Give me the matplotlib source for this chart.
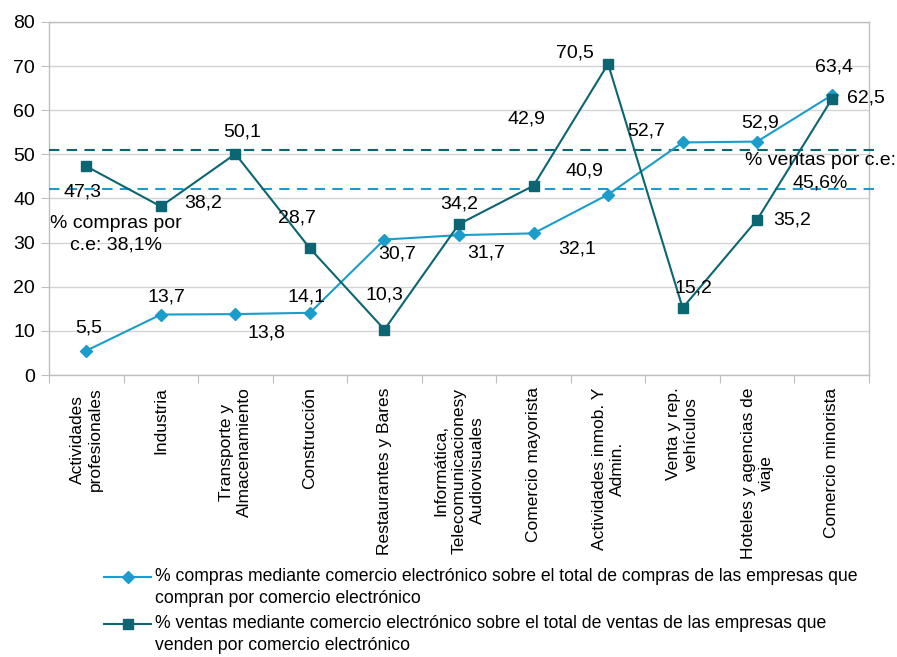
import matplotlib
matplotlib.use("Agg")
import matplotlib.pyplot as plt
from matplotlib.lines import Line2D

plt.rcParams['font.family'] = ['Liberation Sans', 'DejaVu Sans']

categories = ["Actividades\nprofesionales", "Industria", "Transporte y\nAlmacenamiento",
              "Construcción", "Restaurantes y Bares",
              "Informática,\nTelecomunicacionesy\nAudiovisuales", "Comercio mayorista",
              "Actividades inmob. Y\nAdmin.", "Venta y rep.\nvehículos",
              "Hoteles y agencias de\nviaje", "Comercio minorista"]
compras = [5.5, 13.7, 13.8, 14.1, 30.7, 31.7, 32.1, 40.9, 52.7, 52.9, 63.4]
ventas = [47.3, 38.2, 50.1, 28.7, 10.3, 34.2, 42.9, 70.5, 15.2, 35.2, 62.5]
compras_labels = ["5,5", "13,7", "13,8", "14,1", "30,7", "31,7", "32,1", "40,9", "52,7", "52,9", "63,4"]
ventas_labels = ["47,3", "38,2", "50,1", "28,7", "10,3", "34,2", "42,9", "70,5", "15,2", "35,2", "62,5"]
ref_ventas_line = 51.0
ref_compras_line = 42.2
legend_labels = ["% compras mediante comercio electrónico sobre el total de compras de las empresas que\ncompran por comercio electrónico",
                 "% ventas mediante comercio electrónico sobre el total de ventas de las empresas que\nvenden por comercio electrónico"]
yticks = [0, 10, 20, 30, 40, 50, 60, 70, 80]

c_light = "#1A9DCB"
c_dark = "#0C6573"
grid_c = "#D4D4D4"

W, H = 897, 657
fig = plt.figure(figsize=(W / 100, H / 100), dpi=100)
ax = fig.add_axes([49 / W, 1 - 375 / H, (869 - 49) / W, (375 - 22) / H])

x = list(range(len(categories)))
ax.plot(x, compras, color=c_light, lw=1.5, marker='D', ms=6.5, mec=c_light, mfc=c_light, zorder=4)
ax.plot(x, ventas, color=c_dark, lw=1.5, marker='s', ms=7.5, mec=c_dark, mfc=c_dark, zorder=4)

ax.axhline(ref_ventas_line, xmin=0, xmax=1.015, color=c_dark, lw=1.5, ls=(0, (5, 3.5)), clip_on=False, zorder=3)
ax.axhline(ref_compras_line, xmin=0, xmax=1.01, color=c_light, lw=1.5, ls=(0, (5, 3.5)), clip_on=False, zorder=3)

ax.set_xlim(-0.5, len(categories) - 0.5)
ax.set_ylim(0, 80)
ax.set_yticks(yticks)
ax.yaxis.grid(True, color=grid_c, lw=1)
ax.set_axisbelow(True)
for s in ax.spines.values():
    s.set_color("#BFBFBF")
    s.set_linewidth(1)
ax.tick_params(axis='y', length=6, color="#BFBFBF", labelsize=14, pad=4, labelcolor="#000000")

# x: major ticks at boundaries, labels at centers
ax.set_xticks([i - 0.5 for i in range(len(categories) + 1)])
ax.set_xticklabels([])
ax.tick_params(axis='x', which='major', length=6, color="#BFBFBF")
ax.set_xticks(x, minor=True)
ax.set_xticklabels(categories, minor=True, rotation=90, fontsize=12.5, ha='center', va='top',
                   linespacing=1.25, multialignment='center')
ax.tick_params(axis='x', which='minor', length=0, pad=9)

comp_off = [(2, 23), (6, 18), (31, -19), (-3, 16), (13, -14), (27, -18), (44, -16),
            (-24, 24), (-36, 11), (3, 19), (2, 28)]
vent_off = [(-4, -26), (42, 3), (7, 22), (-13, 30), (0, 35), (0, 20), (-7, 67),
            (-33, 11), (11, 20), (35, 0), (34, 1)]
for i in x:
    ax.annotate(compras_labels[i], (x[i], compras[i]), xytext=comp_off[i], textcoords='offset pixels',
                ha='center', va='center', fontsize=14, color='#000000', zorder=6)
    ax.annotate(ventas_labels[i], (x[i], ventas[i]), xytext=vent_off[i], textcoords='offset pixels',
                ha='center', va='center', fontsize=14, color='#000000', zorder=6)

fig.text(116 / W, 1 - 234 / H, "% compras por\nc.e: 38,1%", ha='center', va='center',
         fontsize=14, linespacing=1.35, multialignment='center')
fig.text(820 / W, 1 - 172 / H, "% ventas por c.e:\n45,6%", ha='center', va='center',
         fontsize=14, linespacing=1.45, multialignment='center')

# legend drawn manually
for yy, col, mk, ms, lab in [(577, c_light, 'D', 6.5, legend_labels[0]),
                             (624, c_dark, 's', 7.5, legend_labels[1])]:
    fig.add_artist(Line2D([104 / W, 151 / W], [1 - yy / H, 1 - yy / H], color=col, lw=1.5,
                          transform=fig.transFigure))
    fig.add_artist(Line2D([127.5 / W], [1 - yy / H], color=col, marker=mk, ms=ms, mfc=col, mec=col,
                          transform=fig.transFigure))
    fig.text(155 / W, 1 - (yy - 9) / H, lab, ha='left', va='top', fontsize=12.7, linespacing=1.4)

fig.savefig("out.png", dpi=100, facecolor='white')
